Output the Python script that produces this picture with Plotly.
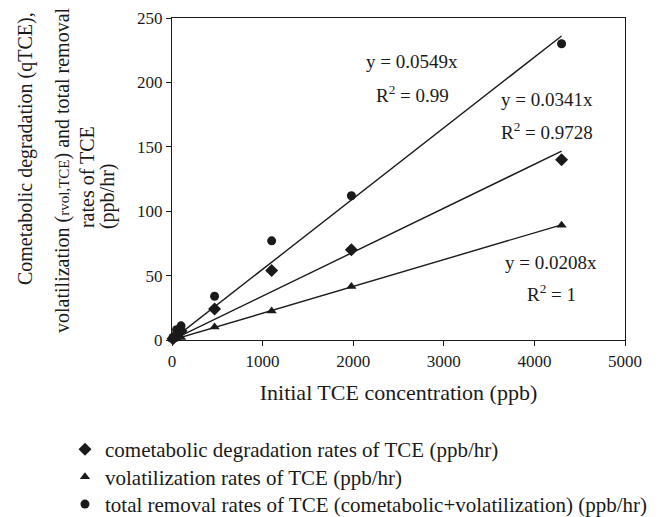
import plotly.graph_objects as go

# ---- data ----
conc = [10, 50, 100, 470, 1100, 1980, 4300]            # Initial TCE concentration (ppb)
cometabolic = [1, 4, 7, 24, 54, 70, 140]                # ppb/hr  (diamonds)
volatilization = [0.3, 1, 2, 10, 22.5, 41.5, 89]        # ppb/hr  (triangles)
total_removal = [2, 8, 11, 34, 77, 112, 230]            # ppb/hr  (circles)

series_names = [
    "cometabolic degradation rates of TCE (ppb/hr)",
    "volatilization rates of TCE (ppb/hr)",
    "total removal rates of TCE (cometabolic+volatilization) (ppb/hr)",
]
symbols = ["diamond", "triangle-up", "circle"]
slopes = [0.0341, 0.0208, 0.0549]
r2_labels = ["0.9728", "1", "0.99"]
fit_x = [0, 4300]

x_ticks = [0, 1000, 2000, 3000, 4000, 5000]
y_ticks = [0, 50, 100, 150, 200, 250]

y_title_lines = [
    "Cometabolic degradation (qTCE),",
    "volatilization (<span style='font-size:15px'>rvol,TCE</span>) and total removal",
    "rates of TCE",
    "(ppb/hr)",
]

FONT = "Liberation Serif, Times New Roman, serif"
INK = "#1a1a1a"
legend_ids = ["legend", "legend2", "legend3"]
legend_tops = [0.1700, 0.1170, 0.0640]

fig = go.Figure()
for i, (vals, name, sym, k) in enumerate(
        zip([cometabolic, volatilization, total_removal], series_names, symbols, slopes)):
    fig.add_trace(go.Scatter(
        x=fit_x, y=[k * v for v in fit_x], mode="lines",
        line=dict(color=INK, width=1.4), showlegend=False, hoverinfo="skip",
        cliponaxis=False))
    fig.add_trace(go.Scatter(
        x=conc, y=vals, mode="markers", name=name, legend=legend_ids[i],
        marker=dict(symbol=sym, size=9 if sym != "diamond" else 10, color=INK),
        cliponaxis=False))

# equation annotations
eq_pos = [  # (x, y of "y =" line, y of "R2" line) in data units
    (4140, 187, 162),
    (4185, 60, 36.5),
    (2650, 216, 191),
]
for (ax, ay1, ay2), k, r2 in zip(eq_pos, slopes, r2_labels):
    fig.add_annotation(x=ax, y=ay1, text=f"y = {k}x", showarrow=False,
                       font=dict(family=FONT, size=19, color=INK))
    fig.add_annotation(x=ax, y=ay2, text=f"R<sup>2</sup> = {r2}", showarrow=False,
                       font=dict(family=FONT, size=19, color=INK))

# y-axis title, one rotated line at a time (pixel offsets from plot's left edge)
title_pos = [(-147, 0.593), (-109, 0.525), (-85, 0.506), (-65, 0.447)]
for line, (dx, py) in zip(y_title_lines, title_pos):
    fig.add_annotation(xref="paper", yref="paper", x=0, y=py, xshift=dx,
                       text=line, textangle=-90, showarrow=False,
                       xanchor="center", yanchor="middle",
                       font=dict(family=FONT, size=20, color=INK))

legend_common = dict(xref="container", yref="container", x=0.0986,
                     xanchor="left", yanchor="top", tracegroupgap=0,
                     font=dict(family=FONT, size=21, color=INK),
                     bgcolor="rgba(0,0,0,0)", itemwidth=30)

fig.update_layout(
    width=659, height=517,
    margin=dict(l=172, r=34, t=18, b=177, autoexpand=False),
    paper_bgcolor="white", plot_bgcolor="white",
    font=dict(family=FONT, size=17, color=INK),
    xaxis=dict(
        range=[0, 5000], tickvals=x_ticks, ticktext=[str(v) for v in x_ticks],
        showgrid=False, zeroline=False, showline=True, linecolor=INK, linewidth=1.2,
        mirror=True, ticks="outside", ticklen=5, tickcolor=INK, automargin=False,
        tickfont=dict(size=17),
        title=dict(text="Initial TCE concentration (ppb)", font=dict(size=22)),
    ),
    yaxis=dict(
        range=[0, 250], tickvals=y_ticks, ticktext=[str(v) for v in y_ticks],
        showgrid=False, zeroline=False, showline=True, linecolor=INK, linewidth=1.2,
        mirror=True, ticks="outside", ticklen=5, tickcolor=INK, automargin=False,
        tickfont=dict(size=17),
    ),
    legend=dict(y=legend_tops[0], **legend_common),
    legend2=dict(y=legend_tops[1], **legend_common),
    legend3=dict(y=legend_tops[2], **legend_common),
    showlegend=True,
)

fig.write_html("out.html", config={"displayModeBar": False},
               post_script="document.body.style.margin='0';")
